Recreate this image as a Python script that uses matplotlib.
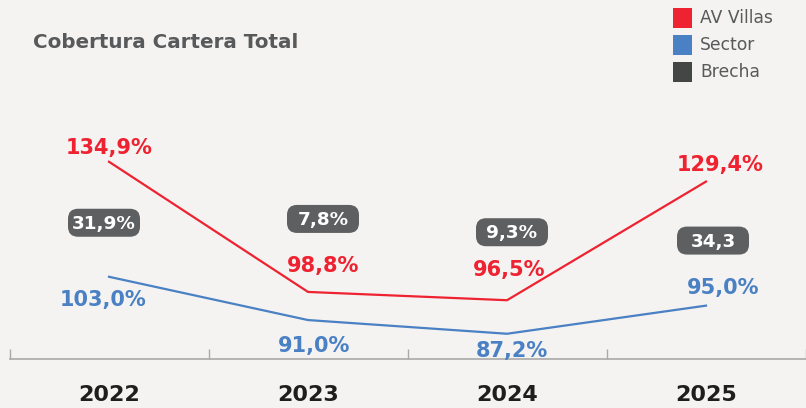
import matplotlib.pyplot as plt
from matplotlib.patches import FancyBboxPatch
from matplotlib.transforms import IdentityTransform

years = ["2022", "2023", "2024", "2025"]
av_villas = [134.9, 98.8, 96.5, 129.4]
sector = [103.0, 91.0, 87.2, 95.0]
brecha = ["31,9%", "7,8%", "9,3%", "34,3"]

RED = "#ee2230"
BLUE = "#4a80c4"
DARK = "#444646"
BOXC = "#5e5f61"
BG = "#f4f3f1"
GRAY = "#58595b"

def fmt(v):
    return "{:.1f}%".format(v).replace(".", ",")

W, H = 806, 408
fig = plt.figure(figsize=(W / 100, H / 100), dpi=100, facecolor=BG)
# axis line at y=359 px, categories every 199 px starting at 109
ax = fig.add_axes([9.5 / W, (H - 359) / H, 796 / W, 359 / H])
ax.set_facecolor(BG)
ax.set_xlim(-0.5, 3.5)
ax.set_ylim(80.2, 80.2 + 359 / 3.606)

x = list(range(len(years)))
ax.plot(x, av_villas, color=RED, lw=1.6, solid_joinstyle="miter")
ax.plot(x, sector, color=BLUE, lw=1.6, solid_joinstyle="miter")

for s in ["top", "left", "right"]:
    ax.spines[s].set_visible(False)
ax.spines["bottom"].set_color("#a9a9a9")
ax.spines["bottom"].set_linewidth(1.2)
ax.set_xticks([-0.5, 0.5, 1.5, 2.5, 3.5])
ax.set_xticklabels([])
ax.tick_params(axis="x", direction="in", length=7, color="#a9a9a9", width=1)
ax.set_yticks([])

for i, yr in enumerate(years):
    ax.annotate(yr, xy=(i, 0), xycoords=("data", "axes fraction"),
                xytext=(0, -36), textcoords="offset pixels",
                ha="center", va="center", fontsize=16, fontweight="bold",
                color="#1e1e1e", annotation_clip=False)

# label offsets in pixels
red_off = [(0, 14), (15, 26), (2, 30), (14, 17)]
blue_off = [(-6, -23), (6, -26), (5, -17), (17, 18)]
for i in x:
    ax.annotate(fmt(av_villas[i]), xy=(i, av_villas[i]), xytext=red_off[i],
                textcoords="offset pixels", ha="center", va="center",
                fontsize=15, fontweight="bold", color=RED)
    ax.annotate(fmt(sector[i]), xy=(i, sector[i]), xytext=blue_off[i],
                textcoords="offset pixels", ha="center", va="center",
                fontsize=15, fontweight="bold", color=BLUE)

# brecha pills (fixed size), offset from the AV Villas point
gap_off = [(-5, -61), (15, 73), (5, 68), (7, -59)]
bw, bh = 72, 28
for i in x:
    px, py = ax.transData.transform((i, av_villas[i]))
    cx, cy = px + gap_off[i][0], py + gap_off[i][1]
    pill = FancyBboxPatch((cx - bw / 2, cy - bh / 2), bw, bh,
                          boxstyle="round,pad=0,rounding_size=10",
                          fc=BOXC, ec="none", transform=IdentityTransform(),
                          clip_on=False, zorder=3)
    ax.add_artist(pill)
    ax.annotate(brecha[i], xy=(i, av_villas[i]), xytext=(gap_off[i][0], gap_off[i][1] - 1),
                textcoords="offset pixels", ha="center", va="center",
                fontsize=13.2, fontweight="bold", color="white", zorder=4)

fig.text(33 / W, 1 - 42 / H, "Cobertura Cartera Total", fontsize=14.3,
         fontweight="bold", color=GRAY, ha="left", va="center")

legend_items = [("AV Villas", RED), ("Sector", BLUE), ("Brecha", DARK)]
for k, (name, c) in enumerate(legend_items):
    yc = 18 + 27 * k
    fig.patches.append(plt.Rectangle((673 / W, 1 - (yc + 9.5) / H), 19 / W, 19 / H,
                                     transform=fig.transFigure, fc=c, ec="none"))
    fig.text(700 / W, 1 - yc / H, name, fontsize=12.3, color=GRAY,
             ha="left", va="center")

fig.savefig("out.png", dpi=100, facecolor=BG)
